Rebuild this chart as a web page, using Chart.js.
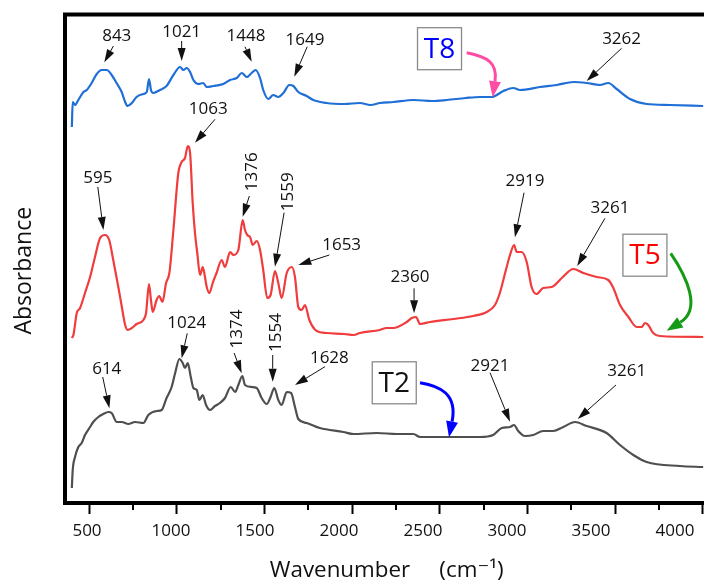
<!DOCTYPE html>
<html><head><meta charset="utf-8">
<script src="https://cdn.jsdelivr.net/npm/chart.js@4.4.1/dist/chart.umd.min.js"></script>
<style>
html,body{margin:0;padding:0;overflow:hidden;background:#fff}
#wrap{position:relative;width:720px;height:583px}
</style>
</head><body><div id="wrap"><canvas id="c"></canvas></div>
<script>
// ---- data ----
const xTickValues = [500, 1000, 1500, 2000, 2500, 3000, 3500, 4000];
const xTickLabels = ['500', '1000', '1500', '2000', '2500', '3000', '3500', '4000'];
const minorTickValues = [750, 1250, 1750, 2250, 2750, 3250, 3750];

const t8Wavenumber = [402,407,420,439,468,487,515,544,572,601,629,657,686,706,719,744,771,810,829,842,853,866,904,942,981,1019,1038,1057,1076,1095,1123,1151,1171,1208,1265,1304,1342,1371,1399,1427,1450,1475,1493,1522,1550,1579,1608,1642,1665,1693,1741,1778,1854,1954,2044,2105,2158,2235,2349,2456,2539,2647,2729,2795,2862,2919,2957,3071,3166,3261,3337,3412,3460,3508,3584,3679,3812,4001];
const t8Absorbance = [3.76,4.01,3.98,4.03,4.11,4.13,4.20,4.29,4.33,4.33,4.28,4.20,4.11,4.01,3.97,4.00,4.06,4.09,4.11,4.24,4.13,4.10,4.13,4.17,4.28,4.36,4.33,4.35,4.31,4.23,4.19,4.20,4.16,4.17,4.19,4.23,4.25,4.30,4.26,4.30,4.33,4.25,4.13,4.04,4.08,4.06,4.10,4.18,4.17,4.11,4.07,4.03,4.00,3.99,4.00,3.98,4.00,4.01,4.03,4.02,4.03,4.05,4.06,4.06,4.12,4.15,4.13,4.16,4.18,4.21,4.20,4.18,4.20,4.14,4.04,3.99,3.98,3.97];

const t5Wavenumber = [402,411,430,449,477,506,534,563,591,615,638,667,687,706,721,744,771,810,825,842,853,863,885,900,919,939,958,981,1009,1028,1047,1063,1076,1091,1104,1117,1133,1148,1157,1171,1186,1205,1227,1256,1275,1304,1323,1351,1376,1389,1402,1418,1433,1456,1475,1493,1516,1535,1560,1579,1598,1627,1656,1674,1693,1712,1731,1756,1798,1854,1954,2008,2044,2158,2196,2235,2311,2340,2364,2387,2444,2577,2691,2767,2814,2842,2872,2900,2923,2938,2966,2995,3023,3051,3089,3137,3195,3261,3318,3394,3460,3489,3527,3575,3622,3651,3669,3688,3716,3754,4001];
const t5Absorbance = [1.65,1.68,1.90,1.95,2.10,2.26,2.46,2.65,2.68,2.63,2.43,2.16,1.96,1.78,1.73,1.75,1.79,1.83,1.90,2.19,2.03,1.91,2.03,2.07,2.01,2.20,2.30,2.73,3.30,3.41,3.45,3.57,3.50,3.00,2.70,2.50,2.28,2.36,2.30,2.16,2.10,2.20,2.30,2.43,2.36,2.51,2.48,2.53,2.83,2.73,2.68,2.66,2.58,2.62,2.53,2.33,2.05,2.08,2.32,2.20,2.05,2.30,2.36,2.26,1.96,1.93,1.98,1.83,1.72,1.70,1.69,1.68,1.70,1.73,1.75,1.75,1.81,1.85,1.86,1.79,1.81,1.84,1.87,1.91,1.98,2.10,2.30,2.48,2.58,2.51,2.51,2.41,2.16,2.09,2.15,2.16,2.25,2.34,2.30,2.26,2.23,2.15,1.98,1.86,1.76,1.76,1.80,1.78,1.70,1.67,1.66];

const t2Wavenumber = [402,407,420,439,458,477,506,524,553,581,610,629,658,687,724,762,810,838,886,914,942,971,991,1015,1034,1047,1063,1080,1095,1114,1129,1148,1167,1190,1218,1246,1275,1308,1333,1351,1374,1389,1427,1456,1484,1513,1535,1556,1579,1598,1627,1652,1674,1693,1741,1816,1950,2007,2140,2254,2349,2387,2539,2729,2804,2853,2900,2923,2947,2985,3032,3089,3146,3204,3270,3337,3450,3527,3603,3679,3869,4001];
const t2Absorbance = [0.15,0.33,0.46,0.56,0.60,0.68,0.76,0.81,0.86,0.89,0.91,0.90,0.81,0.81,0.79,0.81,0.80,0.88,0.92,0.93,1.05,1.16,1.30,1.44,1.40,1.35,1.40,1.26,1.15,1.13,1.03,1.08,0.98,0.93,0.97,1.00,1.05,1.16,1.11,1.18,1.27,1.18,1.16,1.15,1.05,0.99,1.06,1.15,1.03,0.98,1.11,1.10,0.96,0.84,0.80,0.75,0.71,0.69,0.70,0.69,0.69,0.66,0.66,0.66,0.68,0.75,0.76,0.78,0.72,0.67,0.68,0.72,0.72,0.76,0.81,0.77,0.70,0.58,0.48,0.41,0.37,0.36];

// peak annotations (text centre, arrow start, arrow tip) in data units
const peakNotes = [
  {t:'843',  tx:658,  ty:4.673, sx:639,  sy:4.57,  ex:587,  ey:4.407},
  {t:'1021', tx:1028, ty:4.713, sx:1028, sy:4.62,  ex:1028, ey:4.42},
  {t:'1448', tx:1395, ty:4.673, sx:1389, sy:4.563, ex:1427, ey:4.413},
  {t:'1649', tx:1731, ty:4.63,  sx:1744, sy:4.563, ex:1670, ey:4.263},
  {t:'3262', tx:3536, ty:4.64,  sx:3536, sy:4.547, ex:3337, ey:4.22},
  {t:'1063', tx:1180, ty:3.94,  sx:1218, sy:3.837, ex:1104, ey:3.603},
  {t:'595',  tx:550,  ty:3.247, sx:550,  sy:3.16,  ex:582,  ey:2.73},
  {t:'1376', tx:1429, ty:3.313, sx:1414, sy:3.07,  ex:1376, ey:2.863, rot:true},
  {t:'1559', tx:1636, ty:3.113, sx:1612, sy:2.903, ex:1560, ey:2.363, rot:true},
  {t:'1653', tx:1940, ty:2.58,  sx:1870, sy:2.48,  ex:1693, ey:2.38},
  {t:'2360', tx:2330, ty:2.263, sx:2353, sy:2.147, ex:2353, ey:1.897},
  {t:'2919', tx:2985, ty:3.22,  sx:2980, sy:3.103, ex:2928, ey:2.657},
  {t:'3261', tx:3470, ty:2.947, sx:3441, sy:2.847, ex:3283, ey:2.37},
  {t:'614',  tx:601,  ty:1.337, sx:578,  sy:1.26,  ex:616,  ey:0.947},
  {t:'1024', tx:1057, ty:1.797, sx:1060, sy:1.697, ex:1028, ey:1.447},
  {t:'1374', tx:1342, ty:1.74,  sx:1327, sy:1.50,  ex:1370, ey:1.297, rot:true},
  {t:'1554', tx:1568, ty:1.705, sx:1547, sy:1.48,  ex:1547, ey:1.213, rot:true},
  {t:'1628', tx:1870, ty:1.447, sx:1845, sy:1.363, ex:1674, ey:1.18},
  {t:'2921', tx:2786, ty:1.37,  sx:2786, sy:1.303, ex:2900, ey:0.813},
  {t:'3261', tx:3565, ty:1.323, sx:3504, sy:1.18,  ex:3286, ey:0.84}
];
// sample tags with curved arrows (cubic bezier, data units)
const sampleTags = [
  {t:'T8', color:'#0000ff', cx:2498, cy:4.543, arrow:'#ff4da6',
   p:[[2653,4.503],[2767,4.463],[2824,4.33],[2801,4.057]]},
  {t:'T5', color:'#ff0000', cx:3669, cy:2.478, arrow:'#159a15',
   p:[[3816,2.497],[3907,2.263],[3954,1.897],[3793,1.723]]},
  {t:'T2', color:'#111111', cx:2240, cy:1.202, arrow:'#0000ff',
   p:[[2387,1.203],[2501,1.17],[2592,1.013],[2552,0.657]]}
];

const FONT = "'Open Sans', 'DejaVu Sans', sans-serif";
const toXY = (xs, ys) => xs.map((x, i) => ({x, y: ys[i]}));

function straightArrow(ctx, x1, y1, x2, y2, len, hw) {
  const a = Math.atan2(y2 - y1, x2 - x1);
  const bx = x2 - len * Math.cos(a), by = y2 - len * Math.sin(a);
  ctx.beginPath(); ctx.moveTo(x1, y1); ctx.lineTo(bx, by); ctx.stroke();
  ctx.beginPath();
  ctx.moveTo(x2, y2);
  ctx.lineTo(bx + hw * Math.sin(a), by - hw * Math.cos(a));
  ctx.lineTo(bx - hw * Math.sin(a), by + hw * Math.cos(a));
  ctx.closePath(); ctx.fill();
}

const decor = {
  id: 'decor',
  afterDatasetsDraw(chart) {
    const {ctx, chartArea: ca, scales: {x, y}} = chart;
    ctx.save();
    // top frame line
    ctx.strokeStyle = '#000'; ctx.lineWidth = 4;
    ctx.beginPath(); ctx.moveTo(ca.left - 2, ca.top); ctx.lineTo(ca.right, ca.top); ctx.stroke();
    // minor ticks
    ctx.lineWidth = 2;
    minorTickValues.forEach(v => {
      const px = Math.round(x.getPixelForValue(v));
      ctx.beginPath(); ctx.moveTo(px, ca.bottom + 2); ctx.lineTo(px, ca.bottom + 7); ctx.stroke();
    });
    // peak labels with arrows
    ctx.font = '17px ' + FONT;
    ctx.fillStyle = '#111'; ctx.strokeStyle = '#111'; ctx.lineWidth = 1;
    ctx.textAlign = 'center'; ctx.textBaseline = 'middle';
    peakNotes.forEach(n => {
      const tx = x.getPixelForValue(n.tx), ty = y.getPixelForValue(n.ty);
      if (n.rot) {
        ctx.save(); ctx.translate(tx, ty); ctx.rotate(-Math.PI / 2); ctx.fillText(n.t, 0, 0); ctx.restore();
      } else {
        ctx.fillText(n.t, tx, ty);
      }
      straightArrow(ctx, x.getPixelForValue(n.sx), y.getPixelForValue(n.sy),
        x.getPixelForValue(n.ex), y.getPixelForValue(n.ey), 13, 4);
    });
    // sample tags
    sampleTags.forEach(s => {
      const cx = x.getPixelForValue(s.cx), cy = y.getPixelForValue(s.cy);
      const w = 44, h = 42;
      ctx.fillStyle = '#fff'; ctx.fillRect(cx - w / 2, cy - h / 2, w, h);
      ctx.strokeStyle = '#8a8a8a'; ctx.lineWidth = 1.3;
      ctx.strokeRect(cx - w / 2, cy - h / 2, w, h);
      ctx.fillStyle = s.color; ctx.font = '28px ' + FONT;
      ctx.fillText(s.t, cx, cy + 1);
      const P = s.p.map(q => [x.getPixelForValue(q[0]), y.getPixelForValue(q[1])]);
      const dx = P[3][0] - P[2][0], dy = P[3][1] - P[2][1];
      const d = Math.hypot(dx, dy), ux = dx / d, uy = dy / d;
      const len = 16, hw = 6;
      const bx = P[3][0] - ux * len, by = P[3][1] - uy * len;
      ctx.strokeStyle = s.arrow; ctx.fillStyle = s.arrow; ctx.lineWidth = 3;
      ctx.beginPath(); ctx.moveTo(P[0][0], P[0][1]);
      ctx.bezierCurveTo(P[1][0], P[1][1], P[2][0] - ux * len * 0.5, P[2][1] - uy * len * 0.5, bx, by);
      ctx.stroke();
      ctx.beginPath(); ctx.moveTo(P[3][0], P[3][1]);
      ctx.lineTo(bx + hw * uy, by - hw * ux); ctx.lineTo(bx - hw * uy, by + hw * ux);
      ctx.closePath(); ctx.fill();
    });
    ctx.restore();
  }
};

const lineDs = (label, xs, ys, color) => ({
  label, data: toXY(xs, ys), borderColor: color, borderWidth: 2.2,
  pointRadius: 0, fill: false, cubicInterpolationMode: 'monotone'
});

new Chart(document.getElementById('c'), {
  type: 'line',
  data: {
    datasets: [
      lineDs('T8', t8Wavenumber, t8Absorbance, '#1f6fd6'),
      lineDs('T5', t5Wavenumber, t5Absorbance, '#f03c3c'),
      lineDs('T2', t2Wavenumber, t2Absorbance, '#4f4f4f')
    ]
  },
  options: {
    responsive: true, maintainAspectRatio: false, animation: false, devicePixelRatio: 1,
    events: [],
    layout: {padding: {top: 14.5, left: 0, right: 0, bottom: 0}},
    plugins: {legend: {display: false}, tooltip: {enabled: false}},
    scales: {
      x: {
        type: 'linear', position: 'bottom', weight: 0, min: 363, max: 4097,
        afterBuildTicks: s => { s.ticks = xTickValues.map(v => ({value: v})); },
        afterFit: s => { s.height = 12; },
        ticks: {display: false},
        grid: {display: true, drawOnChartArea: false, drawTicks: true, tickLength: 11, tickWidth: 2, tickColor: '#000'},
        border: {display: true, width: 4, color: '#000'}
      },
      xl: {
        type: 'linear', position: 'bottom', weight: 1, min: 369, max: 4268,
        afterBuildTicks: s => { s.ticks = xTickValues.map(v => ({value: v})); },
        afterFit: s => { s.height = 68; },
        ticks: {
          autoSkip: false, maxRotation: 0, padding: 6, color: '#111',
          font: {family: FONT, size: 17},
          callback: v => xTickLabels[xTickValues.indexOf(v)]
        },
        grid: {display: false, drawTicks: false},
        border: {display: false},
        title: {display: true, text: 'Wavenumber     (cm\u207B\u00B9)  ', color: '#111',
          font: {family: FONT, size: 22.4}, padding: {top: 0, bottom: -1}}
      },
      y: {
        type: 'linear', position: 'left', min: 0, max: 4.885,
        afterFit: s => { s.width = 65; },
        ticks: {display: false},
        grid: {display: false, drawTicks: false},
        border: {display: true, width: 4, color: '#000'},
        title: {display: true, text: 'Absorbance    ', color: '#111',
          font: {family: FONT, size: 23}, padding: {top: 11, bottom: 0}}
      }
    }
  },
  plugins: [decor]
});
</script>
</body></html>
